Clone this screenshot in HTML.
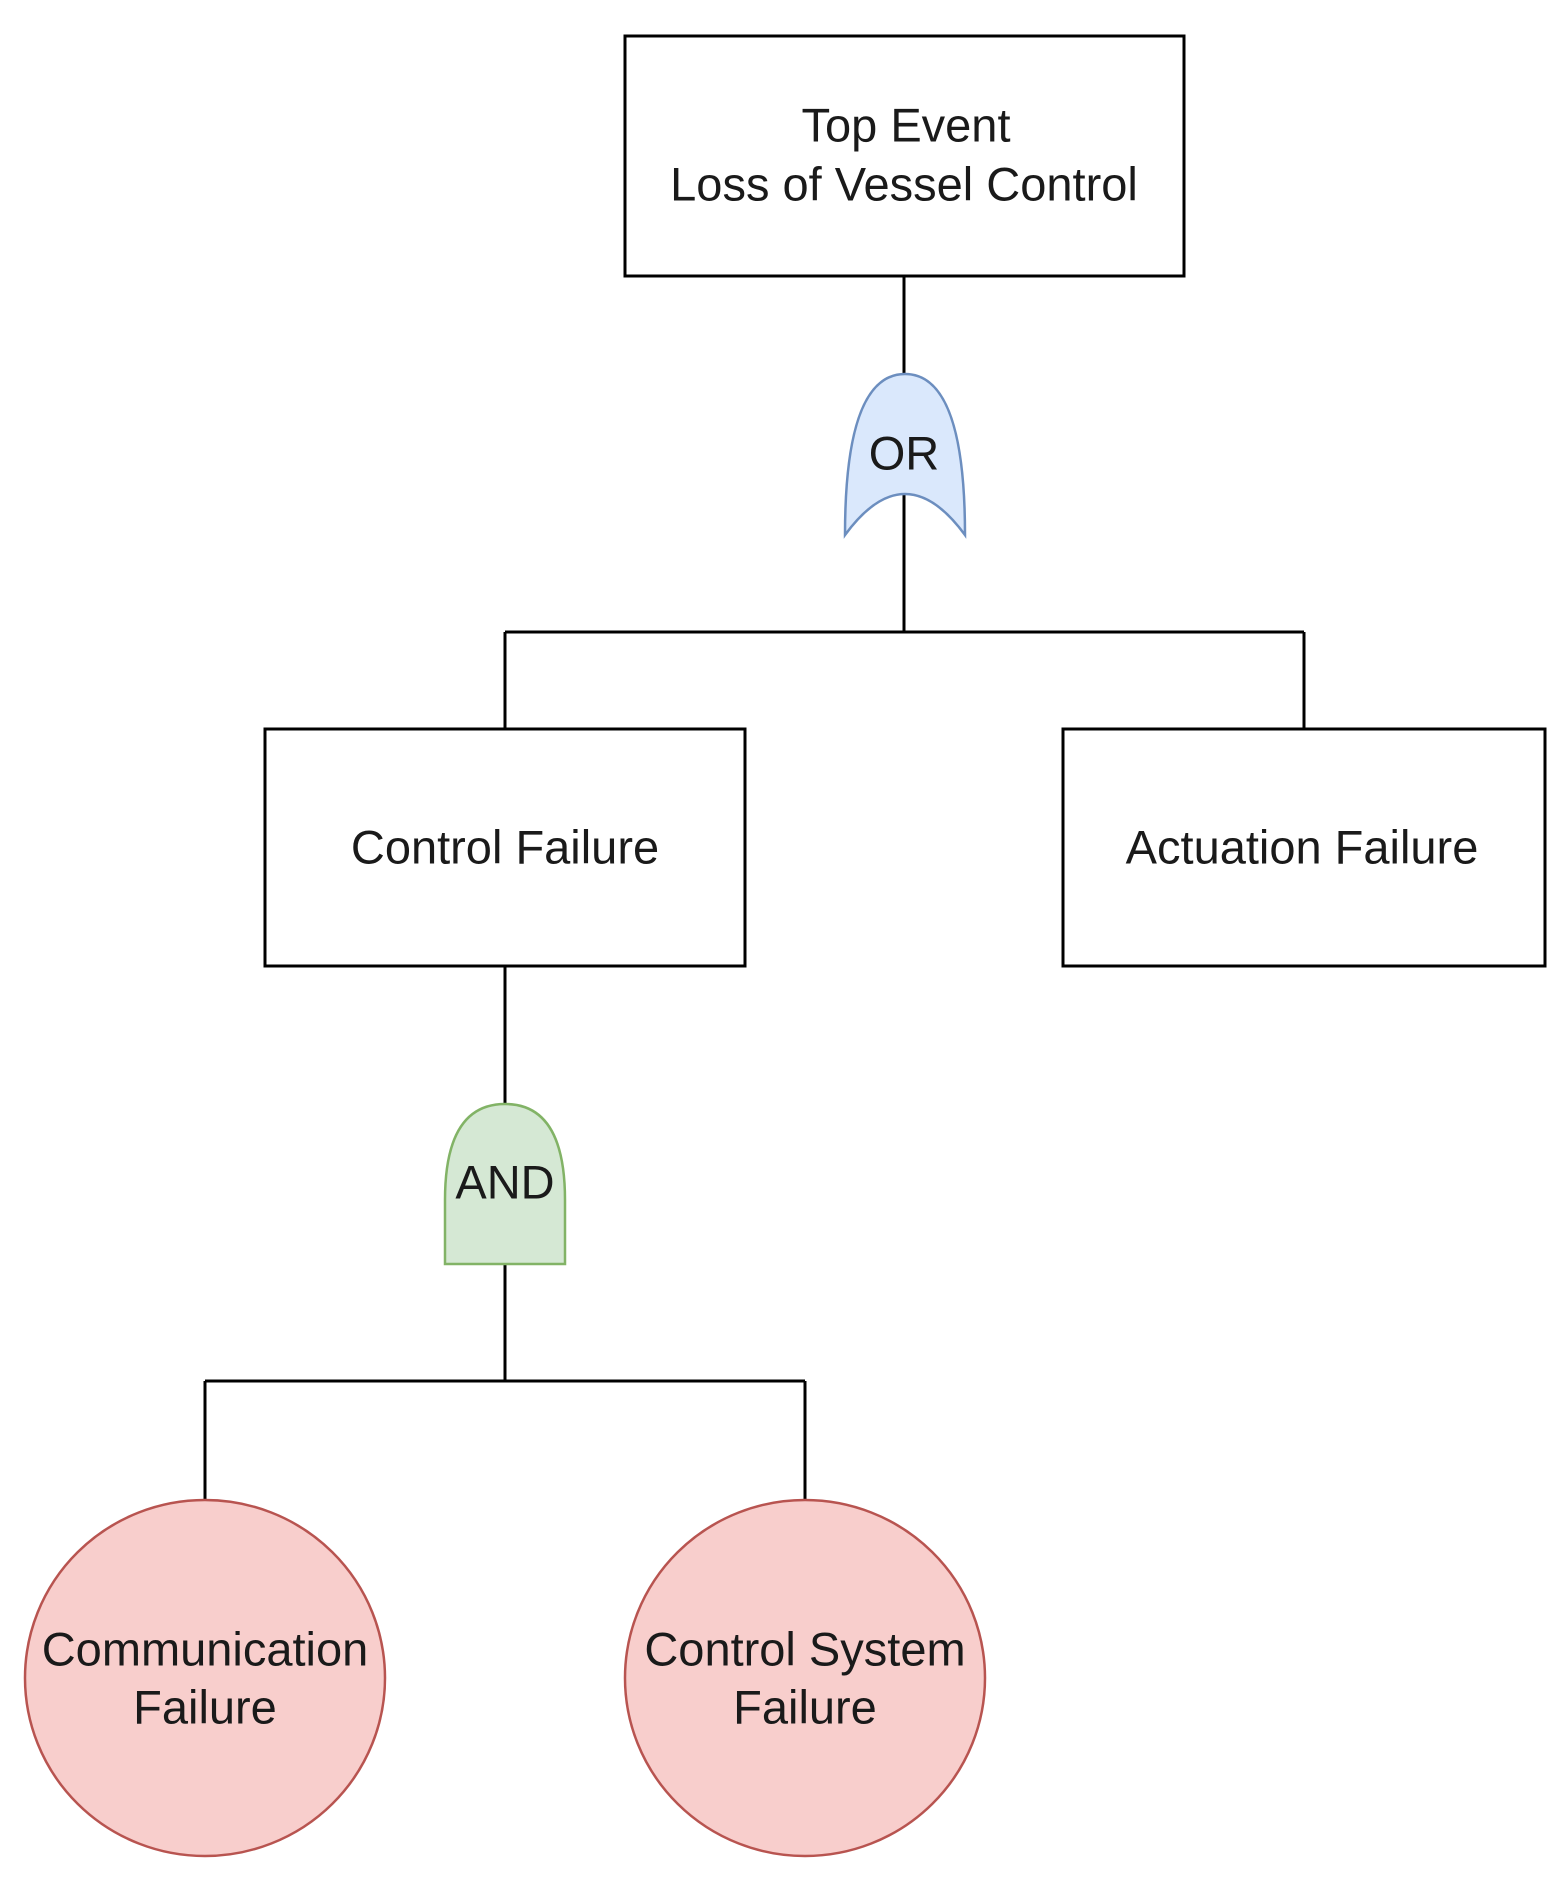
<!DOCTYPE html>
<html><head><meta charset="utf-8"><style>html,body{margin:0;padding:0;background:#fff}svg{display:block}</style></head>
<body>
<svg width="1554" height="1888" viewBox="0 0 1554 1888" xmlns="http://www.w3.org/2000/svg" font-family="Liberation Sans, Arial, sans-serif" font-size="47" fill="#1a1a1a">
<g stroke="#000" stroke-width="3" fill="none">
<path d="M904,276 V374 M904,494 V632 M505,632 H1304 M505,632 V729 M1304,632 V729"/>
<path d="M505,966 V1104 M505,1264 V1381 M205,1381 H805 M205,1381 V1500 M805,1381 V1500"/>
<rect x="625" y="36" width="559" height="240" fill="#fff"/>
<rect x="265" y="729" width="480" height="237" fill="#fff"/>
<rect x="1063" y="729" width="482" height="237" fill="#fff"/>
</g>
<path d="M845,535 Q845,374 905,374 Q965,374 965,535 Q905,453 845,535 Z" fill="#dae8fc" stroke="#6c8ebf" stroke-width="2.5"/>
<path d="M445,1264 L445,1200 Q445,1104 505,1104 Q565,1104 565,1200 L565,1264 Z" fill="#d5e8d4" stroke="#82b366" stroke-width="2.5"/>
<ellipse cx="205" cy="1678" rx="180" ry="178" fill="#f8cecc" stroke="#b85450" stroke-width="2.5"/>
<ellipse cx="805" cy="1678" rx="180" ry="178" fill="#f8cecc" stroke="#b85450" stroke-width="2.5"/>
<g text-anchor="middle" dominant-baseline="central">
<text x="906" y="125">Top Event</text>
<text x="904" y="184">Loss of Vessel Control</text>
<text x="904" y="453">OR</text>
<text x="505" y="847">Control Failure</text>
<text x="1302" y="847">Actuation Failure</text>
<text x="505" y="1182">AND</text>
<text x="205" y="1649">Communication</text>
<text x="205" y="1707">Failure</text>
<text x="805" y="1649">Control System</text>
<text x="805" y="1707">Failure</text>
</g>
</svg>
</body></html>
